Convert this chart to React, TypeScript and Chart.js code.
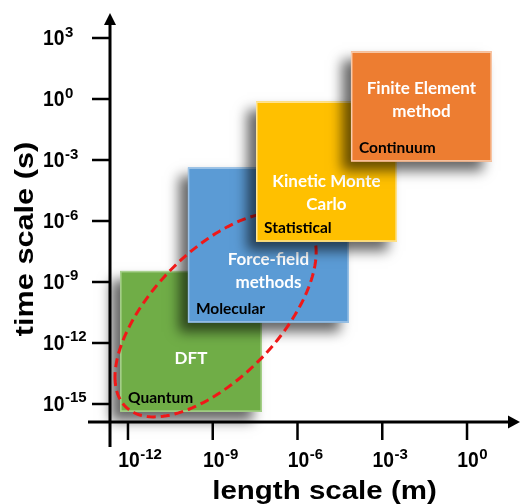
import React, { useEffect, useRef } from 'react';
import { Chart, registerables } from 'chart.js';

Chart.register(...registerables);

// ---- data ----
const methodNames = ['DFT', 'Force-field\nmethods', 'Kinetic Monte\nCarlo', 'Finite Element\nmethod'];
const regimeNames = ['Quantum', 'Molecular', 'Statistical', 'Continuum'];
const lengthMin = [5.25e-13, 1.32e-10, 3.4e-8, 7.8e-5];
const lengthMax = [5.5e-8, 6.6e-5, 3.3e-3, 7.6];
const timeMin = [4.1e-16, 1.0e-11, 9.5e-8, 8.3e-4];
const timeMax = [3.5e-9, 4.3e-4, 0.76, 219];
const lengthTickExps = [-12, -9, -6, -3, 0];
const timeTickExps = [3, 0, -3, -6, -9, -12, -15];
const lengthRange = [2.31e-13, 75];
const timeRange = [1.3e-16, 1.7e4];
// ellipse: centre, end of first conjugate semi-axis, end of second
const ellipseLength = [1.26e-9, 3.47e-13, 1.26e-9];
const ellipseTime = [2.5e-11, 2.1e-14, 2.6e-15];

// ---- styles ----
const boxColors = ['#70AD47', '#5B9BD5', '#FFC000', '#ED7D31'];
const edgeColors = ['#A9D18E', '#9DC3E6', '#FFE699', '#F8CBAD'];
const titleLift = [48, 35, 32, 45];
const AX_FONT = '"Liberation Sans", Arial, sans-serif';
const BOX_FONT = 'Lato, "Open Sans", sans-serif';

function drawBox(ctx: CanvasRenderingContext2D, xs: any, ys: any, i: number) {
  const l = xs.getPixelForValue(lengthMin[i]);
  const r = xs.getPixelForValue(lengthMax[i]);
  const t = ys.getPixelForValue(timeMax[i]);
  const b = ys.getPixelForValue(timeMin[i]);
  ctx.save();
  ctx.shadowColor = 'rgba(0,0,0,0.6)';
  ctx.shadowBlur = 12;
  ctx.shadowOffsetX = -9;
  ctx.shadowOffsetY = 9;
  ctx.fillStyle = boxColors[i];
  ctx.fillRect(l, t, r - l, b - t);
  ctx.restore();
  ctx.save();
  ctx.strokeStyle = edgeColors[i];
  ctx.lineWidth = 1.5;
  ctx.strokeRect(l + 0.75, t + 0.75, r - l - 1.5, b - t - 1.5);
  ctx.fillStyle = '#ffffff';
  ctx.font = 'bold 17px ' + BOX_FONT;
  ctx.textAlign = 'center';
  ctx.textBaseline = 'alphabetic';
  const lines = methodNames[i].split('\n');
  const cx = (l + r) / 2;
  const lastBase = b - titleLift[i];
  lines.forEach((ln, k) => ctx.fillText(ln, cx, lastBase - (lines.length - 1 - k) * 22.5));
  ctx.fillStyle = '#000000';
  ctx.font = 'bold 15.5px ' + BOX_FONT;
  ctx.textAlign = 'left';
  ctx.fillText(regimeNames[i], l + 8, b - 9);
  ctx.restore();
}

function drawEllipse(ctx: CanvasRenderingContext2D, xs: any, ys: any) {
  const cx = xs.getPixelForValue(ellipseLength[0]);
  const cy = ys.getPixelForValue(ellipseTime[0]);
  const ux = xs.getPixelForValue(ellipseLength[1]) - cx;
  const uy = ys.getPixelForValue(ellipseTime[1]) - cy;
  const vx = xs.getPixelForValue(ellipseLength[2]) - cx;
  const vy = ys.getPixelForValue(ellipseTime[2]) - cy;
  ctx.save();
  ctx.beginPath();
  const n = 160;
  for (let k = 0; k <= n; k++) {
    const a = (k / n) * Math.PI * 2;
    const x = cx + ux * Math.cos(a) + vx * Math.sin(a);
    const y = cy + uy * Math.cos(a) + vy * Math.sin(a);
    if (k === 0) ctx.moveTo(x, y);
    else ctx.lineTo(x, y);
  }
  ctx.closePath();
  ctx.setLineDash([9, 5]);
  ctx.lineWidth = 3;
  ctx.strokeStyle = '#F01818';
  ctx.stroke();
  ctx.restore();
}

function drawPow(ctx: CanvasRenderingContext2D, exp: number, x: number, base: number, centered: boolean) {
  ctx.save();
  ctx.fillStyle = '#000';
  ctx.textBaseline = 'alphabetic';
  ctx.textAlign = 'left';
  ctx.font = 'bold 22px ' + AX_FONT;
  const sx = 0.88;
  const w = ctx.measureText('10').width * sx;
  const x0 = centered ? x - w / 2 : x;
  ctx.save();
  ctx.translate(x0, base);
  ctx.scale(sx, 1);
  ctx.fillText('10', 0, 0);
  ctx.restore();
  ctx.font = 'bold 15px ' + AX_FONT;
  ctx.fillText(String(exp), x0 + w + 0.5, base - 8.5);
  ctx.restore();
}

const diagramPlugin = {
  id: 'diagram',
  afterDraw(chart: any) {
    const ctx: CanvasRenderingContext2D = chart.ctx;
    const xs = chart.scales.x;
    const ys = chart.scales.y;
    const area = chart.chartArea;

    drawBox(ctx, xs, ys, 0);
    drawBox(ctx, xs, ys, 1);
    drawEllipse(ctx, xs, ys);
    drawBox(ctx, xs, ys, 2);
    drawBox(ctx, xs, ys, 3);

    // axes
    const ax = area.left;
    const ay = area.bottom;
    ctx.save();
    ctx.strokeStyle = '#000';
    ctx.fillStyle = '#000';
    ctx.lineWidth = 3;
    ctx.beginPath();
    ctx.moveTo(ax, ay + 25);
    ctx.lineTo(ax, area.top + 8);
    ctx.moveTo(ax - 22, ay);
    ctx.lineTo(area.right - 8, ay);
    ctx.stroke();
    ctx.beginPath();
    ctx.moveTo(ax, area.top);
    ctx.lineTo(ax - 6, area.top + 12);
    ctx.lineTo(ax + 6, area.top + 12);
    ctx.closePath();
    ctx.fill();
    ctx.beginPath();
    ctx.moveTo(area.right, ay);
    ctx.lineTo(area.right - 12, ay - 6.5);
    ctx.lineTo(area.right - 12, ay + 6.5);
    ctx.closePath();
    ctx.fill();

    // ticks
    ctx.lineWidth = 2.5;
    ctx.beginPath();
    timeTickExps.forEach((e) => {
      const y = ys.getPixelForValue(Math.pow(10, e));
      ctx.moveTo(ax - 18, y);
      ctx.lineTo(ax, y);
    });
    lengthTickExps.forEach((e) => {
      const x = xs.getPixelForValue(Math.pow(10, e));
      ctx.moveTo(x, ay);
      ctx.lineTo(x, ay + 18);
    });
    ctx.stroke();
    ctx.restore();

    timeTickExps.forEach((e) => {
      const y = ys.getPixelForValue(Math.pow(10, e));
      drawPow(ctx, e, 43, y + 7, false);
    });
    lengthTickExps.forEach((e) => {
      const x = xs.getPixelForValue(Math.pow(10, e));
      drawPow(ctx, e, x + 1, 467, true);
    });

    // axis titles
    ctx.save();
    ctx.fillStyle = '#000';
    ctx.font = 'bold 25px ' + AX_FONT;
    ctx.textAlign = 'center';
    ctx.textBaseline = 'alphabetic';
    ctx.save();
    ctx.translate(324.5, 499);
    ctx.scale(1.18, 1);
    ctx.fillText('length scale (m)', 0, 0);
    ctx.restore();
    ctx.save();
    ctx.font = 'bold 26px ' + AX_FONT;
    ctx.translate(33, 239);
    ctx.rotate(-Math.PI / 2);
    ctx.scale(1.18, 1);
    ctx.fillText('time scale (s)', 0, 0);
    ctx.restore();
    ctx.restore();
  },
};

export default function App() {
  const ref = useRef<HTMLCanvasElement>(null);
  useEffect(() => {
    const chart = new Chart(ref.current as HTMLCanvasElement, {
      type: 'scatter',
      data: { datasets: [] },
      options: {
        responsive: false,
        animation: false,
        devicePixelRatio: 1,
        layout: { padding: { left: 110, top: 13, right: 0, bottom: 82 } },
        plugins: {
          legend: { display: false },
          tooltip: { enabled: false },
          title: { display: false },
        },
        scales: {
          x: { type: 'logarithmic', display: false, min: lengthRange[0], max: lengthRange[1], bounds: 'data' },
          y: { type: 'logarithmic', display: false, min: timeRange[0], max: timeRange[1], bounds: 'data' },
        },
      },
      plugins: [diagramPlugin],
    } as any);
    return () => chart.destroy();
  }, []);
  return (
    <div style={{ position: 'absolute', left: 0, top: 0, width: 520, height: 504, background: '#fff' }}>
      <canvas ref={ref} width={520} height={504} style={{ display: 'block' }} />
    </div>
  );
}
